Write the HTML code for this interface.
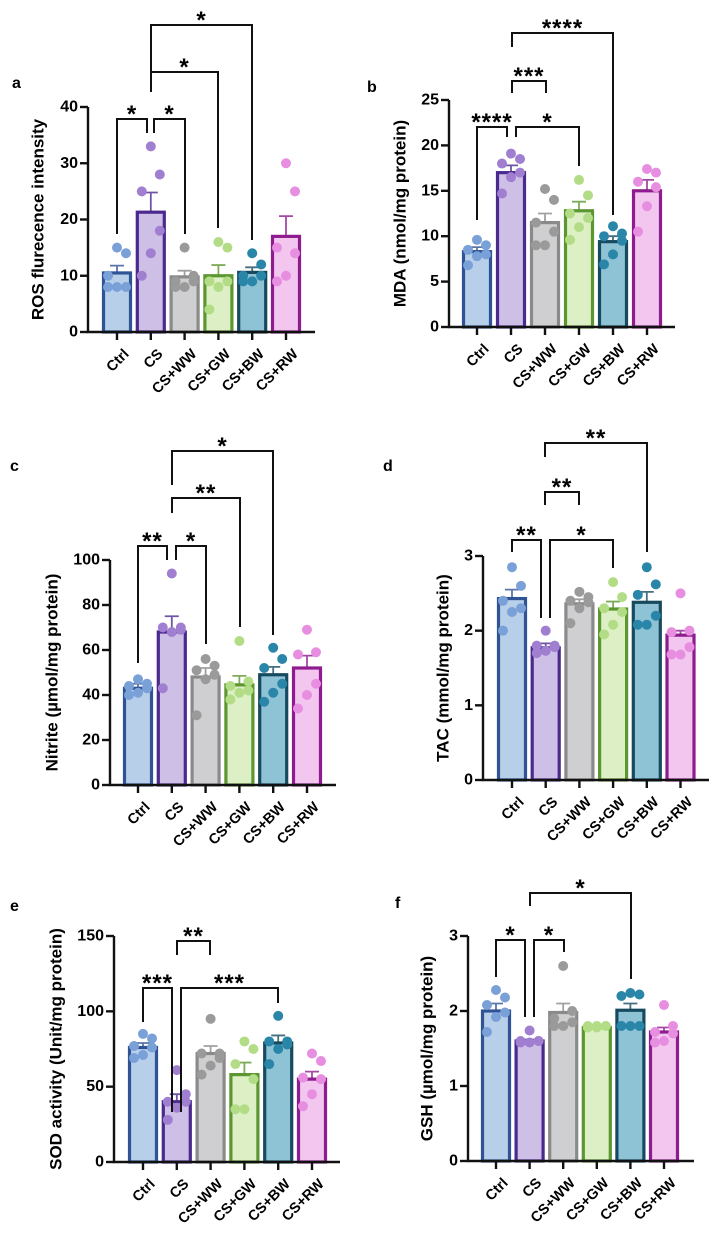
<!DOCTYPE html>
<html><head><meta charset="utf-8"><style>
html,body{margin:0;padding:0;background:#fff;}
svg{display:block;font-family:"Liberation Sans",Arial,sans-serif;}
</style></head><body>
<svg id="fig" width="716" height="1239" viewBox="0 0 716 1239"></svg>
<script>
const groups = ["Ctrl","CS","CS+WW","CS+GW","CS+BW","CS+RW"];
const meansA = [10.5,21.3,9.8,10,10.6,17];
const semA = [11.8,24.8,10.9,11.9,11.5,20.6];
const ptsA = [[8,8,8,10,14,15],[10,14,18,25,28,33],[8,8,9,9,10,15],[4,8,9,9,15,16],[9,9,10,10,12,14],[9,10,14,15,25,30]];
const ticksA = [0,10,20,30,40];
const meansB = [8.3,17,11.5,12.8,9.4,15];
const semB = [8.8,17.8,12.5,13.8,10.0,16.2];
const ptsB = [[6.8,7.8,8,8.5,9,9.6],[14.7,16.5,17,18,18.5,19.1],[9,9,10.5,11.5,14,15.2],[9.6,11,12,12.5,14.5,16.2],[6.9,8,9.5,10,10.3,11.1],[10.5,13.3,15.4,16,17,17.4]];
const ticksB = [0,5,10,15,20,25];
const meansC = [43,68,48,44.5,49,52];
const semC = [45,75,52,48.5,52.5,57.5];
const ptsC = [[40,41,43,44,45,47],[43,68,69,70,70,94],[31,47,49,51,53,56],[38,41,42,44,46,64],[37,41,45,52,56,61],[34,40,45,58,59,69]];
const ticksC = [0,20,40,60,80,100];
const meansD = [2.43,1.77,2.36,2.29,2.38,1.94];
const semD = [2.55,1.83,2.42,2.39,2.52,2.0];
const ptsD = [[2.0,2.25,2.3,2.4,2.6,2.85],[1.7,1.73,1.78,1.8,1.8,2.0],[2.1,2.3,2.38,2.4,2.45,2.52],[1.95,2.08,2.25,2.3,2.45,2.65],[2.08,2.08,2.2,2.48,2.62,2.85],[1.68,1.68,1.78,1.98,2.0,2.5]];
const ticksD = [0,1,2,3];
const meansE = [76,40,72,58,79,55];
const semE = [79,45,77,66,84,60];
const ptsE = [[69,71,76,77,82,85],[28,36,40,40,45,61],[58,64,69,72,72,95],[35,35,55,65,75,80],[65,75,78,80,80,97],[37,45,55,56,67,72]];
const ticksE = [0,50,100,150];
const meansF = [2.0,1.6,1.98,1.78,2.01,1.72];
const semF = [2.1,1.62,2.1,1.8,2.1,1.78];
const ptsF = [[1.72,1.92,1.98,2.08,2.18,2.28],[1.58,1.58,1.6,1.6,1.6,1.74],[1.8,1.8,1.85,1.9,2.0,2.6],[1.78,1.78,1.8,1.8,1.8,1.8],[1.8,1.8,1.8,2.2,2.22,2.24],[1.58,1.6,1.7,1.72,1.8,2.08]];
const ticksF = [0,1,2,3];

const fills=["#b8cfea","#cdbfe6","#cfcfd1","#ddefc4","#8ec3d6","#f3c6f0"];
const strokes=["#2f5496","#4b2a8e","#8a8a8a","#5c9630","#174a5e","#8e1c8e"];
const dots=["#7aa0d8","#a07ed0","#9a9a9a","#b2dd86","#2a86a8","#e78ee0"];
const jit=[-9,0,9,-9,9,0];
const NS="http://www.w3.org/2000/svg";
const svg=document.getElementById('fig');
function mk(tag,attrs,parent){const e=document.createElementNS(NS,tag);for(const k in attrs)e.setAttribute(k,attrs[k]);(parent||svg).appendChild(e);return e;}

const panels=[
 {id:'a',means:meansA,sem:semA,pts:ptsA,ticks:ticksA,ax:88,y0:332,ytop:107,x0:117,step:33.8,xend:315,lab:[12,88],title:"ROS flurecence intensity",tx:38,
  br:[[117,147,119,234,133,"*"],[154,185,119,133,234,"*"],[151,218,72,92,228,"*"],[151,252,25,92,240,"*"]]},
 {id:'b',means:meansB,sem:semB,pts:ptsB,ticks:ticksB,ax:449,y0:327,ytop:100,x0:477,step:34,xend:675,lab:[367,92],title:"MDA (nmol/mg protein)",tx:400,
  br:[[477,507,127,220,137,"****"],[516,579,127,137,166,"*"],[512,546,81,93,93,"***"],[512,613,33,47,215,"****"]]},
 {id:'c',means:meansC,sem:semC,pts:ptsC,ticks:ticksC,ax:110,y0:785,ytop:560,x0:138,step:33.8,xend:336,lab:[10,471],title:"Nitrite (µmol/mg protein)",tx:52,
  br:[[138,167,546,663,560,"**"],[176,206,546,560,644,"*"],[172,240,498,513,627,"**"],[172,273,451,485,635,"*"]]},
 {id:'d',means:meansD,sem:semD,pts:ptsD,ticks:ticksD,ax:483,y0:780,ytop:556,x0:512,step:33.7,xend:709,lab:[383,471],title:"TAC (mmol/mg protein)",tx:443,
  br:[[512,541,540,552,618,"**"],[550,613,540,618,568,"*"],[545,579,492,505,505,"**"],[545,647,443,457,552,"**"]]},
 {id:'e',means:meansE,sem:semE,pts:ptsE,ticks:ticksE,ax:114,y0:1162,ytop:936,x0:143,step:33.8,xend:340,lab:[10,911],title:"SOD activity (Unit/mg protein)",tx:56,
  br:[[143,172,988,1022,1112,"***"],[181,278,988,1112,1003,"***"],[177,210,941,955,955,"**"]]},
 {id:'f',means:meansF,sem:semF,pts:ptsF,ticks:ticksF,ax:468,y0:1161,ytop:936,x0:496,step:33.6,xend:694,lab:[395,908],title:"GSH (µmol/mg protein)",tx:427,
  br:[[496,525,940,977,1017,"*"],[534,564,940,1017,952,"*"],[530,631,893,906,979,"*"]]}
];

panels.forEach(p=>{
  const g=mk('g',{});
  
  
  const vmax=p.ticks[p.ticks.length-1];
  const y=v=>p.y0-(v/vmax)*(p.y0-p.ytop);
  const x=i=>p.x0+i*p.step;
  const lt=mk('text',{x:p.lab[0],y:p.lab[1],'font-size':16,'font-weight':'bold'},g);lt.textContent=p.id;
  
  
  const cy=(p.y0+p.ytop)/2;
  const tt=mk('text',{x:p.tx,y:cy,'font-size':17,'font-weight':'bold','text-anchor':'middle',transform:`rotate(-90 ${p.tx} ${cy})`,'dominant-baseline':'central'},g);tt.textContent=p.title;
  
  
  p.means.forEach((m,i)=>{
    const b=mk('rect',{x:x(i)-13.5,y:y(m),width:27,height:p.y0-y(m),fill:fills[i],stroke:strokes[i],'stroke-width':3.2},g);
    
    
    const e=mk('path',{d:`M${x(i)} ${y(m)}V${y(p.sem[i])}M${x(i)-7} ${y(p.sem[i])}H${x(i)+7}`,stroke:strokes[i],'stroke-width':1.8,fill:'none',opacity:0.8},g);
    
    
  });
  p.pts.forEach((arr,i)=>{
    arr.forEach((v,k)=>{
      const c=mk('circle',{cx:x(i)+jit[k],cy:y(v),r:5,fill:dots[i]},g);
      
      
    });
  });
  const ax=mk('path',{d:`M${p.ax} ${p.ytop}V${p.y0}H${p.xend}`,stroke:'#111','stroke-width':2.4,fill:'none'},g);
  
  
  p.ticks.forEach(t=>{
    mk('line',{x1:p.ax-8,x2:p.ax,y1:y(t),y2:y(t),stroke:'#111','stroke-width':2.4},g);
    const tl=mk('text',{x:p.ax-10,y:y(t),'font-size':16,'font-weight':'bold','text-anchor':'end','dominant-baseline':'central'},g);tl.textContent=t;
    
    
  });
  groups.forEach((gname,i)=>{
    mk('line',{x1:x(i),x2:x(i),y1:p.y0,y2:p.y0+8,stroke:'#111','stroke-width':2.4},g);
    const xl=mk('text',{x:x(i)+6,y:p.y0+16,'font-size':14.5,'font-weight':'bold','text-anchor':'end',transform:`rotate(-45 ${x(i)+6} ${p.y0+16})`,'dominant-baseline':'hanging'},g);xl.textContent=gname;
    
    
  });
  p.br.forEach(b=>{
    const [x1,x2,yl,lb,rb,s]=b;
    const pa=mk('path',{d:`M${x1} ${lb}V${yl}H${x2}V${rb}`,stroke:'#111','stroke-width':2,fill:'none'},g);
    
    
    const st=mk('text',{x:(x1+x2)/2,y:yl+3,'font-size':24,'font-weight':'bold','text-anchor':'middle','letter-spacing':'1'},g);st.textContent=s;
    
    
  });
});
</script>
</body></html>
